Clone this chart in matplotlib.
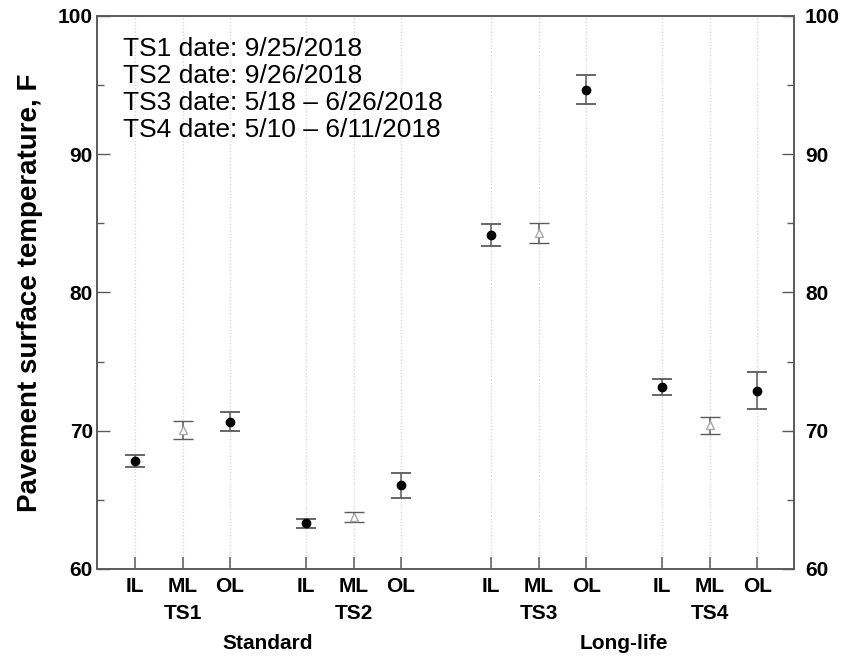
import numpy as np
import matplotlib
matplotlib.use("Agg")
from matplotlib import pyplot as plt

plt.rcParams["font.family"] = ["Liberation Sans", "DejaVu Sans"]

# test sections, lanes and measured surface temperatures (mean and half range)
sections = ["TS1", "TS2", "TS3", "TS4"]
lanes = ["IL", "ML", "OL"]
pavement = ["Standard", "Long-life"]
temp_mean = [
    [67.8, 70.05, 70.65],
    [63.3, 63.75, 66.05],
    [84.15, 84.3, 94.65],
    [73.15, 70.4, 72.9],
]
temp_err = [
    [0.45, 0.63, 0.7],
    [0.33, 0.38, 0.9],
    [0.78, 0.7, 1.05],
    [0.58, 0.62, 1.35],
]
dates = [
    "TS1 date: 9/25/2018",
    "TS2 date: 9/26/2018",
    "TS3 date: 5/18 \u2013 6/26/2018",
    "TS4 date: 5/10 \u2013 6/11/2018",
]

group_start = [1.0, 4.6, 8.5, 12.1]
spine_col = "#5a5a5a"

fig = plt.figure(figsize=(8.45, 6.58), dpi=100)
ax = fig.add_axes([0.1148, 0.1353, 0.8248, 0.8408])

xpos = []
for g, sec in enumerate(sections):
    for k, lane in enumerate(lanes):
        x = group_start[g] + k
        xpos.append(x)
        if lane == "ML":
            ax.errorbar(x, temp_mean[g][k], yerr=temp_err[g][k], fmt="^",
                        ms=6, mfc="white", mec="#a8a8a8", mew=1.0,
                        ecolor=spine_col, elinewidth=1.1, capsize=7.5,
                        capthick=1.3, zorder=3)
        else:
            ax.errorbar(x, temp_mean[g][k], yerr=temp_err[g][k], fmt="o",
                        ms=6, mfc="black", mec="black",
                        ecolor=spine_col, elinewidth=1.1, capsize=7.5,
                        capthick=1.3, zorder=3)

ax.set_xlim(0.2, 14.87)
ax.set_ylim(60, 100)
ax.set_xticks(xpos)
ax.set_xticklabels(lanes * len(sections), fontsize=15, fontweight="bold")
ax.set_yticks([60, 70, 80, 90, 100])
ax.set_yticks([65, 75, 85, 95], minor=True)

for sp in ax.spines.values():
    sp.set_color(spine_col)
    sp.set_linewidth(1.4)

ax.tick_params(axis="x", direction="in", length=9, width=1.1, color=spine_col,
               pad=6)
ax.tick_params(axis="y", which="major", direction="in", length=9, width=1.0,
               color=spine_col, left=True, right=True, labelleft=True,
               labelright=True, labelsize=15, pad=3)
ax.tick_params(axis="y", which="minor", direction="in", length=5, width=1.0,
               color=spine_col, left=True, right=True)
for t in ax.yaxis.get_major_ticks():
    t.label1.set_fontweight("bold")
    t.label2.set_fontweight("bold")
    t.label2.set_x(1.01)

ax.grid(axis="x", linestyle=":", color="#d2d2d2", linewidth=0.9)

ax.set_ylabel("Pavement surface temperature, F", fontsize=20,
              fontweight="bold", labelpad=11)

# section names under lane labels, pavement type below them
for g, sec in enumerate(sections):
    ax.annotate(sec, xy=(group_start[g] + 1, 0),
                xycoords=("data", "axes fraction"), xytext=(0, -32),
                textcoords="offset points", ha="center", va="center",
                fontsize=15, fontweight="bold")
for p, name in enumerate(pavement):
    xc = (group_start[2 * p] + group_start[2 * p + 1]) / 2 + 1
    ax.annotate(name, xy=(xc, 0), xycoords=("data", "axes fraction"),
                xytext=(0, -54), textcoords="offset points", ha="center",
                va="center", fontsize=15, fontweight="bold")

ax.text(0.037, 0.962, "\n".join(dates), transform=ax.transAxes,
        ha="left", va="top", fontsize=19, linespacing=1.16)

fig.savefig("out.png", dpi=100)
